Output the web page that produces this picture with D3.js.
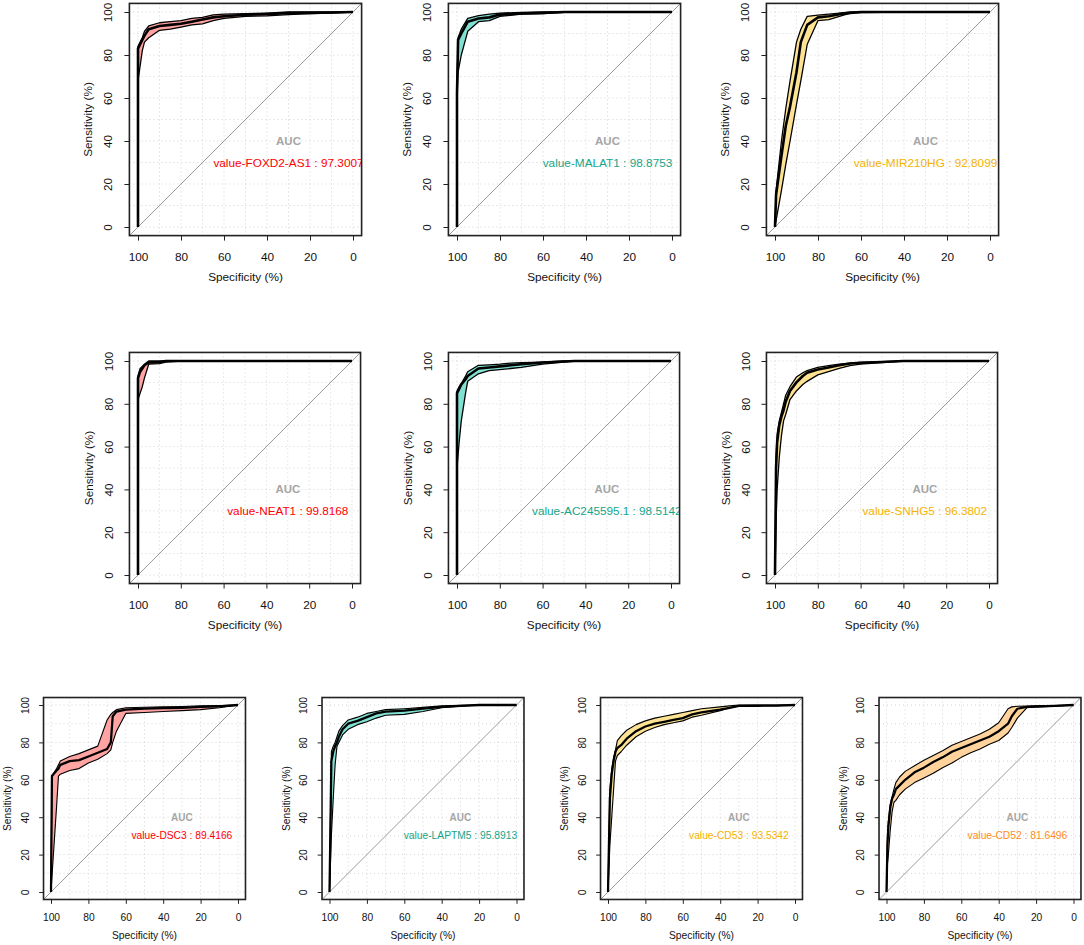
<!DOCTYPE html>
<html>
<head>
<meta charset="utf-8">
<script src="https://cdn.jsdelivr.net/npm/d3@7"></script>
<style>
  body { margin: 0; background: #fff; }
  svg { display: block; font-family: "Liberation Sans", Arial, sans-serif; }
</style>
</head>
<body>
<svg id="chart" width="1084" height="945"></svg>
<script>
// gene names and AUC values, one per panel
const genes = ["FOXD2-AS1", "MALAT1", "MIR210HG", "NEAT1", "AC245595.1", "SNHG5", "DSC3", "LAPTM5", "CD53", "CD52"];
const aucValues = ["97.3007", "98.8753", "92.8099", "99.8168", "98.5142", "96.3802", "89.4166", "95.8913", "93.5342", "81.6496"];
const colorKeys = ["red", "teal", "yellow", "red", "teal", "yellow", "red", "teal", "yellow", "orange"];
const xTicks = [100, 80, 60, 40, 20, 0];
const yTicks = [0, 20, 40, 60, 80, 100];

// specificity / sensitivity (%) with CI band (lo, hi)
const foxd2Spec = [100, 100, 99, 98, 97, 95, 90, 85, 80, 75, 70, 65, 60, 50, 40, 30, 20, 10, 0];
const foxd2Sens = [0, 83, 85, 87, 89, 92, 93.5, 94, 94.5, 95.5, 96.5, 97.5, 98, 98.7, 99, 99.5, 99.6, 99.8, 100];
const foxd2Hi   = [0, 84, 86, 88, 91, 93.5, 95, 95.5, 96, 97, 97.5, 98.7, 99, 99.2, 99.5, 100, 100, 100, 100];
const foxd2Lo   = [0, 68, 75, 82, 86, 88, 91.5, 92, 93, 94, 94.5, 96, 97, 98, 98.2, 98.8, 99.2, 99.5, 100];

const malat1Spec = [100, 100, 99.5, 98, 95, 90, 85, 80, 70, 60, 50, 40, 20, 0];
const malat1Sens = [0, 62, 87, 90, 95.5, 97, 97.5, 98.8, 99.3, 99.6, 100, 100, 100, 100];
const malat1Hi   = [0, 64, 88, 92, 97, 98.3, 99, 99.5, 99.8, 100, 100, 100, 100, 100];
const malat1Lo   = [0, 60, 72, 80, 91, 95.5, 96, 98, 99, 99.3, 99.8, 100, 100, 100];

const mir210Spec = [100, 99.5, 97, 95, 93, 90, 88, 85, 80, 75, 70, 65, 60, 40, 20, 0];
const mir210Sens = [0, 15, 33, 47, 56, 72, 86, 94, 97.5, 98, 99, 99.6, 100, 100, 100, 100];
const mir210Hi   = [0, 17, 40, 55, 68, 86, 92, 98, 98.5, 99, 99.5, 100, 100, 100, 100, 100];
const mir210Lo   = [0, 3, 17, 29, 40, 57, 68, 85, 96, 96.5, 98, 99.5, 99.7, 100, 100, 100];

const neat1Spec = [100, 100, 99, 98, 97, 95, 90, 87, 80, 0];
const neat1Sens = [0, 92, 95, 96.5, 98, 99.3, 99.5, 100, 100, 100];
const neat1Hi   = [0, 93, 96.5, 97.5, 98.5, 100, 100, 100, 100, 100];
const neat1Lo   = [0, 82, 85, 88, 92, 98.5, 98.8, 99.5, 100, 100];

const ac245Spec = [100, 100, 99, 98, 96, 95, 90, 85, 80, 75, 70, 60, 50, 45, 20, 0];
const ac245Sens = [0, 85, 87, 89, 91.5, 93, 96.5, 97, 97.5, 98, 98.5, 99.3, 99.8, 100, 100, 100];
const ac245Hi   = [0, 86, 88, 89.5, 93, 95, 98, 98.2, 98.5, 99, 99.2, 99.5, 100, 100, 100, 100];
const ac245Lo   = [0, 50, 62, 72, 85, 90.5, 94, 95.5, 96, 96.5, 97, 98.5, 99.5, 100, 100, 100];

const snhg5Spec = [100, 99.5, 99, 98, 97, 96, 95, 93, 90, 87, 85, 80, 75, 70, 65, 60, 50, 40, 20, 0];
const snhg5Sens = [0, 50, 62, 70, 74, 77, 81, 86, 90, 93, 94.5, 96, 97, 98, 98.8, 99.2, 99.5, 100, 100, 100];
const snhg5Hi   = [0, 55, 66, 72, 76, 80, 84, 88, 92.5, 94.5, 95.5, 97, 97.8, 98.5, 99, 99.3, 99.7, 100, 100, 100];
const snhg5Lo   = [0, 25, 40, 55, 65, 72, 75, 82, 86, 89, 90.5, 93.5, 95, 96.5, 97.8, 98.5, 99.3, 100, 100, 100];

const dsc3Spec = [100, 99.5, 97, 96, 95, 90, 85, 80, 75, 70, 68, 67, 65, 60, 50, 40, 30, 20, 10, 0];
const dsc3Sens = [0, 62, 65, 66, 68, 70, 70.5, 72.5, 74.5, 76.5, 80, 94, 96.5, 97.5, 98, 98.3, 98.5, 99, 99.3, 100];
const dsc3Hi   = [0, 62, 66, 68, 70, 72.5, 74, 76, 78, 92, 95, 96, 97.5, 98.5, 98.8, 99, 99.2, 99.5, 99.7, 100];
const dsc3Lo   = [0, 8, 46, 62, 63, 65, 66, 69, 71, 74, 76, 80, 86, 95.5, 96, 96.5, 97, 97.5, 98.5, 100];

const laptm5Spec = [100, 99, 98, 97, 96, 95, 93, 90, 85, 80, 75, 70, 60, 50, 40, 30, 20, 0];
const laptm5Sens = [0, 70, 75, 78, 80, 83, 87, 90, 91.5, 93.5, 95.5, 96.5, 97, 98, 99, 99.5, 100, 100];
const laptm5Hi   = [0, 75, 78, 80, 83, 86, 89, 92, 93.5, 95.5, 96.5, 97.5, 98, 98.7, 99.5, 99.8, 100, 100];
const laptm5Lo   = [0, 30, 50, 68, 78, 80, 84, 87, 89.5, 91, 93, 94.5, 95, 96.5, 98.5, 99.3, 100, 100];

const cd53Spec = [100, 99, 98, 97, 96, 95, 93, 90, 85, 80, 75, 70, 65, 60, 55, 50, 40, 35, 30, 20, 10, 0];
const cd53Sens = [0, 50, 63, 70, 75, 77, 78.5, 82, 86, 88.5, 90, 91, 92, 93, 95, 96, 97.5, 98.5, 99.5, 99.6, 99.7, 100];
const cd53Hi   = [0, 55, 66, 72, 76, 81, 83.5, 86.5, 89.5, 91.5, 93, 94, 95, 96, 97, 98, 99, 99.5, 100, 100, 100, 100];
const cd53Lo   = [0, 25, 40, 55, 70, 73, 75, 78.5, 83, 86, 88, 89.5, 90.5, 91.5, 93.5, 94.5, 97, 98.5, 99.5, 99.6, 99.7, 100];

const cd52Spec = [100, 99.5, 99, 98, 97, 96, 95, 93, 90, 85, 80, 75, 70, 65, 60, 55, 50, 45, 40, 35, 33, 30, 25, 20, 10, 0];
const cd52Sens = [0, 25, 35, 45, 50, 52, 55, 57, 60, 64, 66.5, 69.5, 72, 75, 77, 79, 81, 83, 86, 90, 94, 98, 99, 99.2, 99.5, 100];
const cd52Hi   = [0, 30, 38, 47, 51, 55, 58.5, 61.5, 64.5, 67.5, 70.5, 73, 75.5, 78.5, 80.5, 82.5, 84.5, 87, 90.5, 98, 99, 99.3, 99.4, 99.5, 99.7, 100];
const cd52Lo   = [0, 15, 20, 33, 43, 48, 49, 52, 55, 58.5, 61, 63.5, 66.5, 69, 72, 74.5, 76.5, 79, 81, 85, 88, 93, 98.5, 99, 99.3, 100];

const curves = [
  [foxd2Spec, foxd2Sens, foxd2Lo, foxd2Hi],
  [malat1Spec, malat1Sens, malat1Lo, malat1Hi],
  [mir210Spec, mir210Sens, mir210Lo, mir210Hi],
  [neat1Spec, neat1Sens, neat1Lo, neat1Hi],
  [ac245Spec, ac245Sens, ac245Lo, ac245Hi],
  [snhg5Spec, snhg5Sens, snhg5Lo, snhg5Hi],
  [dsc3Spec, dsc3Sens, dsc3Lo, dsc3Hi],
  [laptm5Spec, laptm5Sens, laptm5Lo, laptm5Hi],
  [cd53Spec, cd53Sens, cd53Lo, cd53Hi],
  [cd52Spec, cd52Sens, cd52Lo, cd52Hi]
];

const fills = { red: "#FFA3A3", teal: "#80E0D2", yellow: "#FDE293", orange: "#FFD39B" };
const textColors = { red: "#FF0000", teal: "#14A58B", yellow: "#F5B300", orange: "#FF8C1A" };

// panel placement: pixel of spec=100, pixel of sens=100, px per percent
const layout = [
  { x100: 138, y100: 12, u: 2.15 },
  { x100: 457, y100: 12, u: 2.15 },
  { x100: 775, y100: 12, u: 2.15 },
  { x100: 138, y100: 361, u: 2.14 },
  { x100: 457, y100: 361, u: 2.14 },
  { x100: 775, y100: 361, u: 2.14 },
  { x100: 51, y100: 705, u: 1.87 },
  { x100: 329.5, y100: 705, u: 1.87 },
  { x100: 608, y100: 705, u: 1.87 },
  { x100: 886.5, y100: 705, u: 1.87 }
];

const svg = d3.select("#chart");

function drawPanel(p, i) {
  const u = p.u;
  const s = u / 2.15;
  const x = d3.scaleLinear().domain([104, -4]).range([p.x100 - 4 * u, p.x100 + 104 * u]);
  const y = d3.scaleLinear().domain([-4, 104]).range([p.y100 + 104 * u, p.y100 - 4 * u]);
  const [x0, x1] = x.range();
  const [y0, y1] = [y(104), y(-4)];

  const g = svg.append("g");
  const clipId = "clip" + i;
  svg.append("clipPath").attr("id", clipId)
    .append("rect").attr("x", x0).attr("y", y0).attr("width", x1 - x0).attr("height", y1 - y0);

  const plot = g.append("g").attr("clip-path", `url(#${clipId})`);

  // dotted grid every 10%
  const grid = d3.range(0, 101, 10);
  plot.selectAll(".gx").data(grid).join("line")
    .attr("x1", d => x(d)).attr("x2", d => x(d))
    .attr("y1", y0).attr("y2", y1)
    .attr("stroke", "#d3d3d3").attr("stroke-width", 1).attr("stroke-dasharray", "1,3");
  plot.selectAll(".gy").data(grid).join("line")
    .attr("y1", d => y(d)).attr("y2", d => y(d))
    .attr("x1", x0).attr("x2", x1)
    .attr("stroke", "#d3d3d3").attr("stroke-width", 1).attr("stroke-dasharray", "1,3");

  // chance diagonal
  const diag = [-4, 104];
  plot.append("line")
    .attr("x1", x(diag[1])).attr("y1", y(100 - diag[1]))
    .attr("x2", x(diag[0])).attr("y2", y(100 - diag[0]))
    .attr("stroke", "#9a9a9a").attr("stroke-width", 1);

  const [spec, sens, lo, hi] = curves[i];
  const pts = spec.map((d, k) => ({ spec: d, sens: sens[k], lo: lo[k], hi: hi[k] }));
  const key = colorKeys[i];

  const area = d3.area().x(d => x(d.spec)).y0(d => y(d.lo)).y1(d => y(d.hi));
  plot.append("path").datum(pts).attr("d", area).attr("fill", fills[key]).attr("stroke", "none");

  const lineLo = d3.line().x(d => x(d.spec)).y(d => y(d.lo));
  const lineHi = d3.line().x(d => x(d.spec)).y(d => y(d.hi));
  const lineMain = d3.line().x(d => x(d.spec)).y(d => y(d.sens));
  [lineLo, lineHi].forEach(l => {
    plot.append("path").datum(pts).attr("d", l)
      .attr("fill", "none").attr("stroke", "#000").attr("stroke-width", 1.3 * s)
      .attr("stroke-linejoin", "round");
  });
  plot.append("path").datum(pts).attr("d", lineMain)
    .attr("fill", "none").attr("stroke", "#000").attr("stroke-width", 2.6 * s)
    .attr("stroke-linejoin", "round");

  // AUC labels
  plot.append("text")
    .attr("x", x(30)).attr("y", y(40))
    .attr("text-anchor", "middle").attr("dominant-baseline", "central")
    .attr("font-size", 11.5 * s).attr("font-weight", "bold").attr("fill", "#a6a6a6")
    .text("AUC");
  plot.append("text")
    .attr("x", x(30)).attr("y", y(30))
    .attr("text-anchor", "middle").attr("dominant-baseline", "central")
    .attr("font-size", 11.8 * s).attr("fill", textColors[key])
    .text(`value-${genes[i]} : ${aucValues[i]}`);

  // frame
  g.append("rect").attr("x", x0).attr("y", y0).attr("width", x1 - x0).attr("height", y1 - y0)
    .attr("fill", "none").attr("stroke", "#222").attr("stroke-width", 1.6);

  // axes
  const fs = 11.8 * s;
  const ax = g.append("g").attr("transform", `translate(0,${y1})`)
    .call(d3.axisBottom(x).tickValues(xTicks).tickSize(5 * s).tickFormat(d3.format("d")));
  ax.select(".domain").remove();
  ax.selectAll("line").attr("stroke", "#222");
  ax.selectAll("text").attr("font-size", fs).attr("font-family", null).attr("fill", "#111")
    .attr("y", 21 * s).attr("dy", null).attr("dominant-baseline", "central");

  const ay = g.append("g").attr("transform", `translate(${x0},0)`)
    .call(d3.axisLeft(y).tickValues(yTicks).tickSize(5 * s).tickFormat(d3.format("d")));
  ay.select(".domain").remove();
  ay.selectAll("line").attr("stroke", "#222");
  ay.selectAll("text").attr("font-size", fs).attr("font-family", null).attr("fill", "#111")
    .attr("x", 0).attr("y", -21 * s).attr("dy", null)
    .attr("text-anchor", "middle").attr("dominant-baseline", "central")
    .attr("transform", "rotate(-90)");

  g.append("text")
    .attr("x", x(50)).attr("y", y1 + 41 * s)
    .attr("text-anchor", "middle").attr("dominant-baseline", "central")
    .attr("font-size", fs).attr("fill", "#111")
    .text("Specificity (%)");
  g.append("text")
    .attr("transform", `translate(${x0 - 41 * s},${y(50)}) rotate(-90)`)
    .attr("text-anchor", "middle").attr("dominant-baseline", "central")
    .attr("font-size", fs).attr("fill", "#111")
    .text("Sensitivity (%)");
}

layout.forEach((p, i) => drawPanel(p, i));
</script>
</body>
</html>
